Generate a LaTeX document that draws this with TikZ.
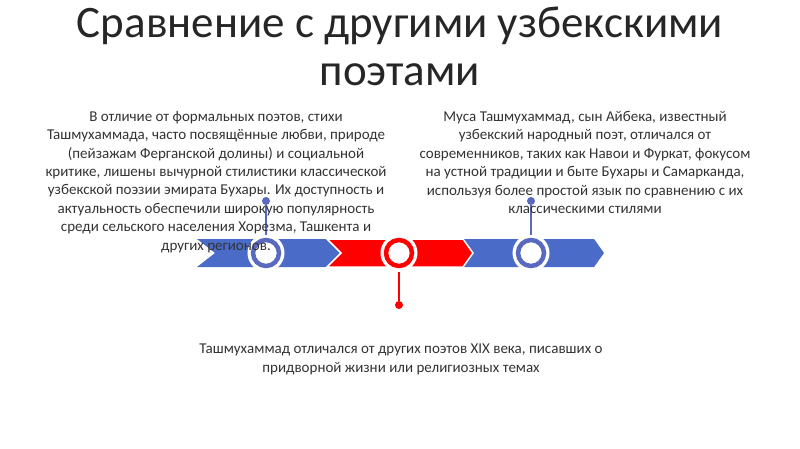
\documentclass[tikz,border=0pt]{standalone}
\usepackage{fontspec}
\setmainfont{Carlito}
\begin{document}
\begin{tikzpicture}[x=1pt,y=-1pt,
 txt/.style={align=center,font=\fontsize{15}{18.4}\selectfont,text=black!80,inner sep=0},
 ring/.style={circle,draw=white,line width=3pt,fill=white,minimum size=34pt,inner sep=0},
 dotc/.style={circle,inner sep=0,minimum size=8pt}]
\useasboundingbox (0,0) rectangle (800,449);
\definecolor{cb}{HTML}{4A6CC8}\definecolor{rb}{HTML}{5A69C0}\definecolor{cr}{HTML}{FF0000}
\node[font=\fontsize{45}{48}\selectfont,align=center,text=black!85] (title) at (400,46) {Сравнение с другими узбекскими\\поэтами};
\fill[cb] (197,239)--(333,239)--(342,253)--(333,267)--(197,267)--(215,253)--cycle;
\fill[cb] (458,239)--(594,239)--(604,253)--(594,267)--(458,267)--(472,253)--cycle;
\draw[white,line width=1.5pt,fill=cr] (327,239)--(463,239)--(473,253)--(463,267)--(327,267)--(341,253)--cycle;
\node[dotc,fill=rb] (d1) at (266,201) {};
\node[dotc,fill=rb] (d3) at (531,201) {};
\node[dotc,fill=cr] (d2) at (399,305) {};
\node[ring] (c1) at (266,253) {};
\node[ring] (c2) at (399,253) {};
\node[ring] (c3) at (531,253) {};
\draw[rb,line width=1.5pt] (d1)--(c1.north);
\draw[rb,line width=1.5pt] (d3)--(c3.north);
\draw[cr,line width=1.5pt] (d2)--(c2.south);
\draw[rb,line width=4.5pt,fill=white] (c1) circle (13);
\draw[cr,line width=4.5pt,fill=white] (c2) circle (13);
\draw[rb,line width=4.5pt,fill=white] (c3) circle (13);
\node[txt,anchor=north] (t1) at (216,111) {В отличие от формальных поэтов, стихи\\Ташмухаммада, часто посвящённые любви, природе\\(пейзажам Ферганской долины) и социальной\\критике,  лишены вычурной стилистики классической\\узбекской поэзии эмирата Бухары.  Их доступность и\\актуальность обеспечили широкую популярность\\среди сельского населения Хорезма, Ташкента и\\других регионов.};
\node[txt,anchor=north] (t3) at (585,111) {Муса Ташмухаммад, сын Айбека, известный\\узбекский народный поэт, отличался от\\современников, таких как Навои и Фуркат,  фокусом\\на устной традиции и быте Бухары и Самарканда,\\используя более простой язык по сравнению с их\\классическими стилями};
\node[txt,anchor=north] (t2) at (401,344) {Ташмухаммад отличался от других поэтов XIX века, писавших о\\придворной жизни или религиозных темах};
\end{tikzpicture}
\end{document}
